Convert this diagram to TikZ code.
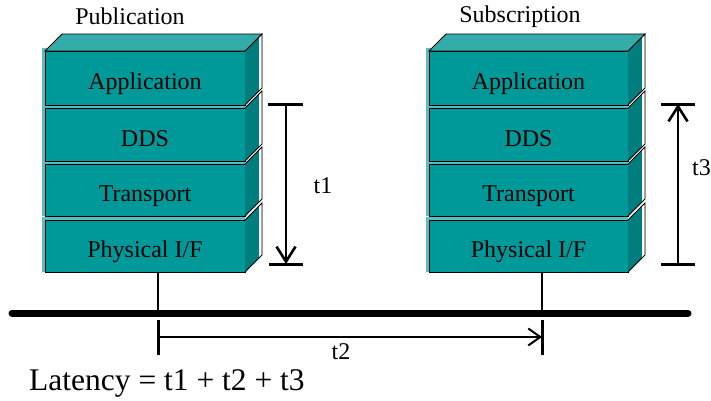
\documentclass[tikz,border=0pt]{standalone}
\usepackage{fontspec}
\setmainfont{Liberation Serif}
\usetikzlibrary{arrows.meta}

\definecolor{tealfront}{RGB}{0,153,153}
\definecolor{tealtop}{RGB}{52,172,170}
\definecolor{tealside}{RGB}{0,125,125}
\definecolor{teallight}{RGB}{90,190,188}

% one layer of a protocol stack: name, left x, right x, top y, bottom y, text
\newcommand\stacklayer[6]{%
  \fill[teallight] (#2-3,#4-3) rectangle (#3,#5);
  \node[layerbox, minimum width={#3-#2}, minimum height={#5-#4}]
    (#1) at ({(#2+#3)/2},{(#4+#5)/2}) {#6};
  \fill[tealside] (#3,#4) -- (#3+17,#4-17) -- (#3+17,#5-17) -- (#3,#5) -- cycle;
  \begin{scope}
    \clip (#3,#4) -- (#3+17,#4-17) -- (#3+17,#5-17) -- (#3,#5) -- cycle;
    \fill[white] (#3+13.5,#4-20) rectangle (#3+18,#5);
  \end{scope}
  \draw[edge] (#3,#4) -- (#3+17,#4-17) -- (#3+17,#5-17) -- (#3,#5);
}
% lid of a stack: left x, right x, top y
\newcommand\stacklid[3]{%
  \filldraw[edge, fill=tealtop] (#1,#3) -- (#1+17,#3-17) -- (#2+17,#3-17) -- (#2,#3) -- cycle;
}

\begin{document}
\begin{tikzpicture}[x=1pt, y=-1pt,
  layerbox/.style={draw=black, line width=0.8pt, fill=tealfront, inner sep=0pt,
                   outer sep=0pt, text height=23pt, text depth=0pt,
                   font=\fontsize{24}{28}\selectfont},
  edge/.style={draw=black, line width=0.8pt},
  lbl/.style={inner sep=0pt, font=\fontsize{24}{28}\selectfont},
  bus/.style={line width=7pt, line cap=round},
  drop/.style={line width=2pt},
  tick/.style={line width=3pt},
  span/.style={line width=2.6pt, -{Straight Barb[length=15pt,width=19pt]}},
  spanthin/.style={line width=2pt, -{Straight Barb[length=12pt,width=17pt]}}]
\useasboundingbox (0,0) rectangle (711,400);

% publisher stack
\stacklayer{pphy}{45}{245}{220}{272}{Physical I/F}
\stacklayer{ptra}{45}{245}{164}{216}{Transport}
\stacklayer{pdds}{45}{245}{108}{161}{DDS}
\stacklayer{papp}{45}{245}{51}{105}{Application}
\stacklid{45}{245}{51}
\node[lbl] (pubt) at (130,16) {Publication};

% subscriber stack
\stacklayer{sphy}{429}{628}{220}{272}{Physical I/F}
\stacklayer{stra}{429}{628}{164}{216}{Transport}
\stacklayer{sdds}{429}{628}{108}{161}{DDS}
\stacklayer{sapp}{429}{628}{51}{105}{Application}
\stacklid{429}{628}{51}
\node[lbl] (subt) at (520,17) {Subscription};

% network bus and the two attachments
\coordinate (busW) at (12,313);
\coordinate (busE) at (688,313);
\coordinate (tapL) at (158,313);
\coordinate (tapR) at (542,313);
\draw[bus] (busW) -- (busE);
\draw[drop] (pphy.south -| tapL) -- (tapL);
\draw[drop] (sphy.south -| tapR) -- (tapR);

% t1: down through the publisher stack
\coordinate (t1a) at (286,104);
\coordinate (t1b) at (286,264);
\draw[span] (t1a) -- (t1b);
\draw[tick] ([xshift=-18pt]t1a) -- ([xshift=17pt]t1a);
\draw[tick] ([xshift=-17pt]t1b) -- ([xshift=17pt]t1b);
\node[lbl] (t1l) at (323,186) {t1};

% t3: up through the subscriber stack
\coordinate (t3a) at (678,264);
\coordinate (t3b) at (678,104);
\draw[span] (t3a) -- (t3b);
\draw[tick] ([xshift=-17pt]t3a) -- ([xshift=17pt]t3a);
\draw[tick] ([xshift=-17pt]t3b) -- ([xshift=17pt]t3b);
\node[lbl, anchor=west] (t3l) at (692,168) {t3};

% t2: across the wire
\coordinate (t2a) at (158,337);
\coordinate (t2b) at (542,337);
\draw[spanthin] (t2a) -- (t2b);
\draw[tick] ([yshift=-18pt]t2a) -- ([yshift=17pt]t2a);
\draw[tick] ([yshift=-18pt]t2b) -- ([yshift=17pt]t2b);
\node[lbl] (t2l) at (341,352) {t2};

\node[inner sep=0pt, anchor=west, font=\fontsize{31.5}{36}\selectfont]
  (lat) at (29,383) {Latency = t1 + t2 + t3};
\end{tikzpicture}
\end{document}
